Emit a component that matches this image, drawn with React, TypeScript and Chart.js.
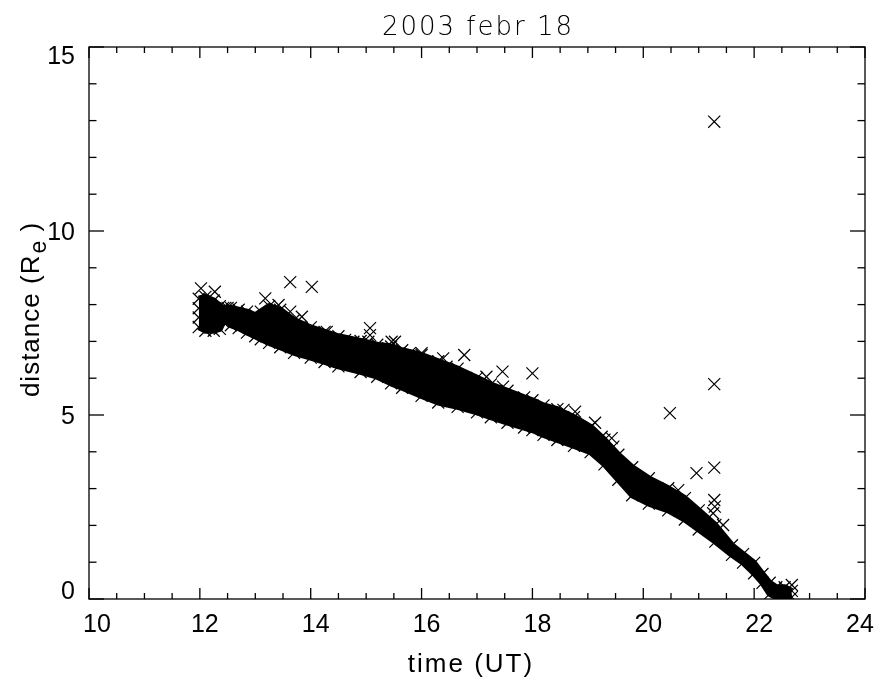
import React, { useEffect, useRef } from 'react';
import { Chart, registerables } from 'chart.js';

Chart.register(...registerables);

// Dense band of the orbit track (upper / lower envelope of marker centres)
const bandTime = [11.98, 12.1, 12.25, 12.36, 12.42, 12.46, 12.5, 12.56, 12.7, 12.85, 13.0, 13.1, 13.25, 13.45, 13.7, 14.0, 14.25, 14.5, 14.9, 15.2, 15.45, 15.65, 16.0, 16.3, 16.65, 17.0, 17.25, 17.55, 17.85, 18.0, 18.2, 18.45, 18.75, 19.05, 19.3, 19.55, 19.8, 20.1, 20.45, 20.75, 21.0, 21.3, 21.6, 21.8, 22.0, 22.15, 22.28, 22.4, 22.55, 22.68];
const bandUpper = [8.16, 8.21, 8.11, 7.96, 7.91, 7.91, 7.91, 7.91, 7.86, 7.81, 7.71, 7.81, 7.96, 7.86, 7.58, 7.38, 7.26, 7.14, 7.01, 6.91, 6.86, 6.76, 6.63, 6.46, 6.26, 6.01, 5.83, 5.66, 5.48, 5.4, 5.26, 5.16, 4.94, 4.68, 4.33, 3.92, 3.58, 3.28, 3.01, 2.74, 2.41, 2.01, 1.46, 1.22, 0.98, 0.68, 0.44, 0.32, 0.32, 0.22];
const bandLower = [7.39, 7.29, 7.29, 7.34, 7.53, 7.74, 7.53, 7.44, 7.36, 7.24, 7.14, 7.06, 6.96, 6.84, 6.69, 6.56, 6.44, 6.32, 6.17, 6.04, 5.86, 5.74, 5.52, 5.34, 5.22, 5.07, 4.94, 4.79, 4.66, 4.59, 4.46, 4.32, 4.16, 3.99, 3.66, 3.24, 2.82, 2.59, 2.41, 2.16, 1.89, 1.56, 1.2, 0.99, 0.7, 0.44, 0.14, 0.05, 0.05, 0.05];

// Individual crosses standing out of the band edges
const edgeTime = [11.98, 11.98, 12.02, 12.27, 13.18, 13.42, 13.63, 13.84, 14.29, 14.62, 14.77, 15.07, 15.07, 15.04, 15.46, 15.4, 15.31, 15.52, 15.79, 16.0, 16.39, 16.45, 16.77, 17.17, 17.46, 17.47, 18.56, 18.77, 19.13, 19.25, 19.43, 19.46, 20.63, 21.28, 21.29, 21.26, 21.44, 22.68];
const edgeDist = [7.65, 7.9, 8.44, 8.35, 8.17, 7.99, 7.81, 7.67, 7.26, 7.04, 6.99, 7.36, 7.17, 6.99, 6.99, 6.81, 6.63, 6.99, 6.68, 6.68, 6.54, 6.31, 6.63, 6.04, 6.18, 5.77, 5.14, 5.09, 4.79, 4.41, 4.37, 4.14, 2.96, 2.69, 2.51, 2.33, 2.01, 0.38];

// Isolated outliers
const outlierTime = [13.63, 14.02, 18.0, 20.48, 20.96, 21.28, 21.28, 21.28];
const outlierDist = [8.61, 8.48, 6.13, 5.05, 3.42, 3.57, 5.84, 12.97];

// Axes
const xMin = 10;
const xMax = 24;
const yMin = 0;
const yMax = 15;
const xTickValues = [10, 12, 14, 16, 18, 20, 22, 24];
const xTickLabels = ['10', '12', '14', '16', '18', '20', '22', '24'];
const yTickValues = [0, 5, 10, 15];
const yTickLabels = ['0', '5', '10', '15'];
const xMinorStep = 0.5;
const yMinorStep = 1;

const titleText = '2003 febr 18';
const xTitleText = 'time (UT)';
const yTitleMain = 'distance (R';
const yTitleSub = 'e';
const yTitleEnd = ' )';

const LABEL_FONT = '25px "Liberation Sans", Arial, sans-serif';
const AXTITLE_FONT = '26px "Liberation Sans", Arial, sans-serif';
const SUB_FONT = '23px "Liberation Sans", Arial, sans-serif';

const framePlugin = {
  id: 'idlFrame',
  afterDatasetsDraw(chart: any) {
    const { ctx, chartArea: a, scales } = chart;
    const xs = scales.x;
    const ys = scales.y;
    ctx.save();
    ctx.strokeStyle = '#000';
    ctx.lineWidth = 1.3;
    ctx.strokeRect(a.left, a.top, a.right - a.left, a.bottom - a.top);

    const line = (x1: number, y1: number, x2: number, y2: number) => {
      ctx.beginPath();
      ctx.moveTo(x1, y1);
      ctx.lineTo(x2, y2);
      ctx.stroke();
    };

    // x ticks (bottom and top, inward)
    const nx = Math.round((xMax - xMin) / xMinorStep);
    for (let i = 0; i <= nx; i++) {
      const v = xMin + i * xMinorStep;
      const px = xs.getPixelForValue(v);
      const major = xTickValues.indexOf(v) >= 0;
      const len = major ? 11 : 6;
      line(px, a.bottom, px, a.bottom - len);
      line(px, a.top, px, a.top + len);
    }
    // y ticks (left and right, inward)
    const ny = Math.round((yMax - yMin) / yMinorStep);
    for (let i = 0; i <= ny; i++) {
      const v = yMin + i * yMinorStep;
      const py = ys.getPixelForValue(v);
      const major = yTickValues.indexOf(v) >= 0;
      const len = major ? 15 : 7.5;
      line(a.left, py, a.left + len, py);
      line(a.right, py, a.right - len, py);
    }

    // tick labels
    ctx.fillStyle = '#000';
    ctx.font = LABEL_FONT;
    ctx.textBaseline = 'alphabetic';
    ctx.textAlign = 'center';
    xTickValues.forEach((v, i) => {
      let off = 5;
      if (i === 0) off = 8;
      if (i === xTickValues.length - 1) off = -5;
      ctx.fillText(xTickLabels[i], xs.getPixelForValue(v) + off, a.bottom + 33);
    });
    ctx.textAlign = 'right';
    yTickValues.forEach((v, i) => {
      let off = 9;
      if (i === 0) off = 0;
      if (i === yTickValues.length - 1) off = 17;
      ctx.fillText(yTickLabels[i], a.left - 14, ys.getPixelForValue(v) + off);
    });

    // x title
    ctx.save();
    ctx.font = AXTITLE_FONT;
    (ctx as any).letterSpacing = '2px';
    ctx.textAlign = 'center';
    ctx.fillText(xTitleText, (a.left + a.right) / 2 - 6, a.bottom + 73);
    ctx.restore();

    // y title with subscript
    ctx.save();
    ctx.translate(39, (a.top + a.bottom) / 2 - 13);
    ctx.rotate(-Math.PI / 2);
    (ctx as any).letterSpacing = '1px';
    ctx.textAlign = 'left';
    ctx.font = AXTITLE_FONT;
    const wMain = ctx.measureText(yTitleMain).width;
    ctx.font = SUB_FONT;
    const wSub = ctx.measureText(yTitleSub).width;
    ctx.font = AXTITLE_FONT;
    const wEnd = ctx.measureText(yTitleEnd).width;
    const total = wMain + wSub + wEnd;
    let x0 = -total / 2;
    ctx.fillText(yTitleMain, x0, 0);
    x0 += wMain + 1;
    ctx.font = SUB_FONT;
    ctx.fillText(yTitleSub, x0, 7);
    x0 += wSub;
    ctx.font = AXTITLE_FONT;
    ctx.fillText(yTitleEnd, x0, 0);
    ctx.restore();

    // main title (thin stroke font)
    ctx.save();
    ctx.font = '200 26px "DejaVu Sans", sans-serif';
    (ctx as any).letterSpacing = '2px';
    ctx.textAlign = 'center';
    ctx.fillStyle = '#000';
    ctx.fillText(titleText, (a.left + a.right) / 2 + 1, a.top - 12);
    ctx.restore();
    ctx.restore();
  },
};

export default function App() {
  const ref = useRef<HTMLCanvasElement | null>(null);
  useEffect(() => {
    document.body.style.margin = '0';
    if (!ref.current) return;
    const crossStyle = {
      showLine: false,
      pointStyle: 'crossRot' as const,
      pointRadius: 8.5,
      pointBorderWidth: 1.2,
      borderColor: '#000',
      backgroundColor: '#000',
      pointBorderColor: '#000',
      clip: 0,
    };
    const edgeLine = {
      borderColor: '#000',
      borderWidth: 6,
      borderJoinStyle: 'round' as const,
      borderCapStyle: 'butt' as const,
      backgroundColor: '#000',
      pointRadius: 0,
      clip: 0,
    };
    const chart = new Chart(ref.current, {
      type: 'line',
      data: {
        datasets: [
          {
            label: 'band upper',
            data: bandTime.map((t, i) => ({ x: t, y: bandUpper[i] })),
            ...edgeLine,
            fill: '+1',
          },
          {
            label: 'band lower',
            data: bandTime.map((t, i) => ({ x: t, y: bandLower[i] })),
            ...edgeLine,
            fill: false,
          },
          {
            label: 'upper crosses',
            data: bandTime.map((t, i) => ({ x: t, y: bandUpper[i] })),
            ...crossStyle,
          },
          {
            label: 'lower crosses',
            data: bandTime.map((t, i) => ({ x: t, y: bandLower[i] })),
            ...crossStyle,
          },
          {
            label: 'edge crosses',
            data: edgeTime.map((t, i) => ({ x: t, y: edgeDist[i] })),
            ...crossStyle,
          },
          {
            label: 'outliers',
            data: outlierTime.map((t, i) => ({ x: t, y: outlierDist[i] })),
            ...crossStyle,
          },
        ],
      },
      options: {
        responsive: false,
        animation: false,
        events: [],
        layout: { padding: { left: 89, right: 17, top: 47, bottom: 85 } },
        plugins: { legend: { display: false }, tooltip: { enabled: false }, title: { display: false } },
        scales: {
          x: { type: 'linear', min: xMin, max: xMax, display: false },
          y: { type: 'linear', min: yMin, max: yMax, display: false },
        },
      },
      plugins: [framePlugin],
    });
    return () => chart.destroy();
  }, []);
  return (
    <div style={{ width: 882, height: 684, background: '#fff' }}>
      <canvas ref={ref} width={882} height={684} />
    </div>
  );
}
